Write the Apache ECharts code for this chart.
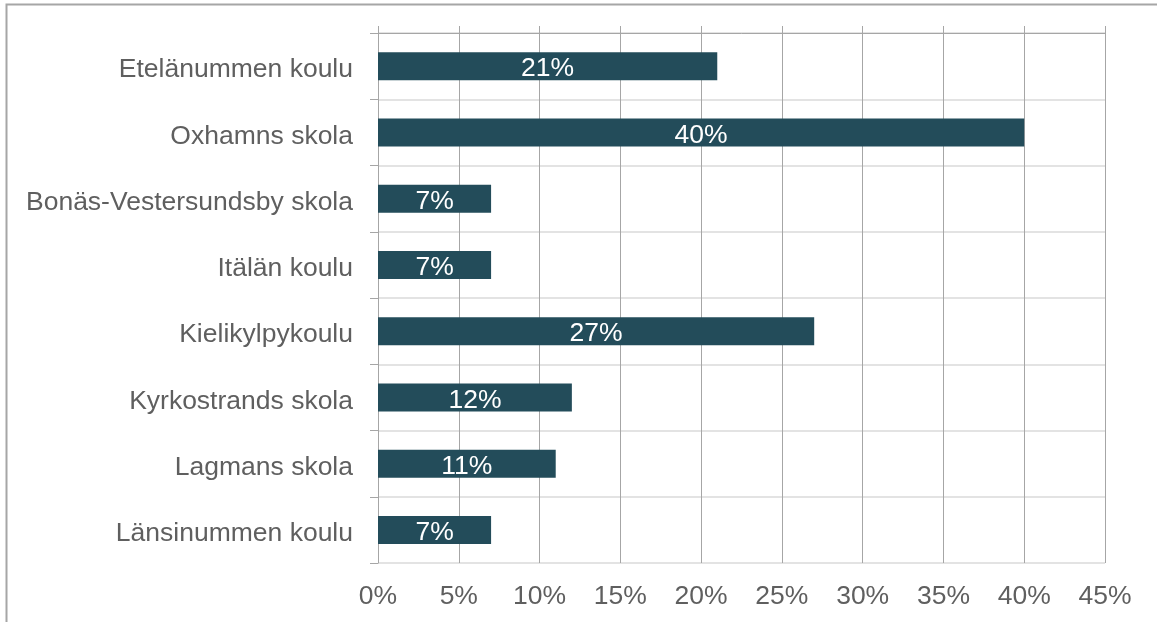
<!DOCTYPE html>
<html>
<head>
<meta charset="utf-8">
<script src="https://cdn.jsdelivr.net/npm/echarts@6/dist/echarts.min.js"></script>
<style>
html,body{margin:0;padding:0;background:#fff;}
#chart{width:1157px;height:622px;}
</style>
</head>
<body>
<div id="chart"></div>
<script>
var categories = ["Etelänummen koulu","Oxhamns skola","Bonäs-Vestersundsby skola","Itälän koulu","Kielikylpykoulu","Kyrkostrands skola","Lagmans skola","Länsinummen koulu"];
var values = [21, 40, 7, 7, 27, 12, 11, 7];
var axisMin = 0, axisMax = 45, axisStep = 5;

var FONT = '"Liberation Sans", Arial, sans-serif';
var chart = echarts.init(document.getElementById('chart'));
chart.setOption({
  animation: false,
  graphic: [{
    type: 'rect', silent: true, z: -1,
    shape: {x: 6.5, y: 4.5, width: 1300, height: 800},
    style: {fill: 'none', stroke: '#a6a6a6', lineWidth: 2}
  }],
  grid: {left: 378, right: 52, top: 33, bottom: 59, containLabel: false},
  xAxis: [{
    type: 'value', min: axisMin, max: axisMax, interval: axisStep, position: 'bottom',
    axisLine: {show: false}, axisTick: {show: false},
    splitLine: {show: true, lineStyle: {color: '#a6a6a6', width: 1}},
    axisLabel: {formatter: '{value}%', color: '#5f5f5f', fontSize: 26.5, fontFamily: FONT, margin: 20}
  }, {
    type: 'value', min: axisMin, max: axisMax, interval: axisStep, position: 'top',
    axisLine: {show: true, lineStyle: {color: '#a6a6a6', width: 1}},
    axisTick: {show: true, length: 7, lineStyle: {color: '#a6a6a6', width: 1}},
    splitLine: {show: false}, axisLabel: {show: false}
  }],
  yAxis: {
    type: 'category', data: categories, inverse: true,
    axisLine: {show: true, lineStyle: {color: '#a6a6a6', width: 1}},
    axisTick: {show: true, length: 8, lineStyle: {color: '#a6a6a6', width: 1}},
    splitLine: {show: true, lineStyle: {color: '#e3e3e3', width: 2}},
    axisLabel: {
      margin: 25,
      formatter: function (v) { return '{c|' + v + '}'; },
      rich: {c: {color: '#5f5f5f', fontSize: 26.5, fontFamily: FONT, padding: [8, 0, 0, 0]}}
    }
  },
  series: [{
    type: 'bar', data: values, xAxisIndex: 0, barWidth: 28,
    itemStyle: {color: '#234c5a'},
    label: {show: true, position: 'inside', formatter: '{c}%', color: '#ffffff', fontSize: 26.5, fontFamily: FONT, offset: [0, 3]}
  }]
});
</script>
</body>
</html>
